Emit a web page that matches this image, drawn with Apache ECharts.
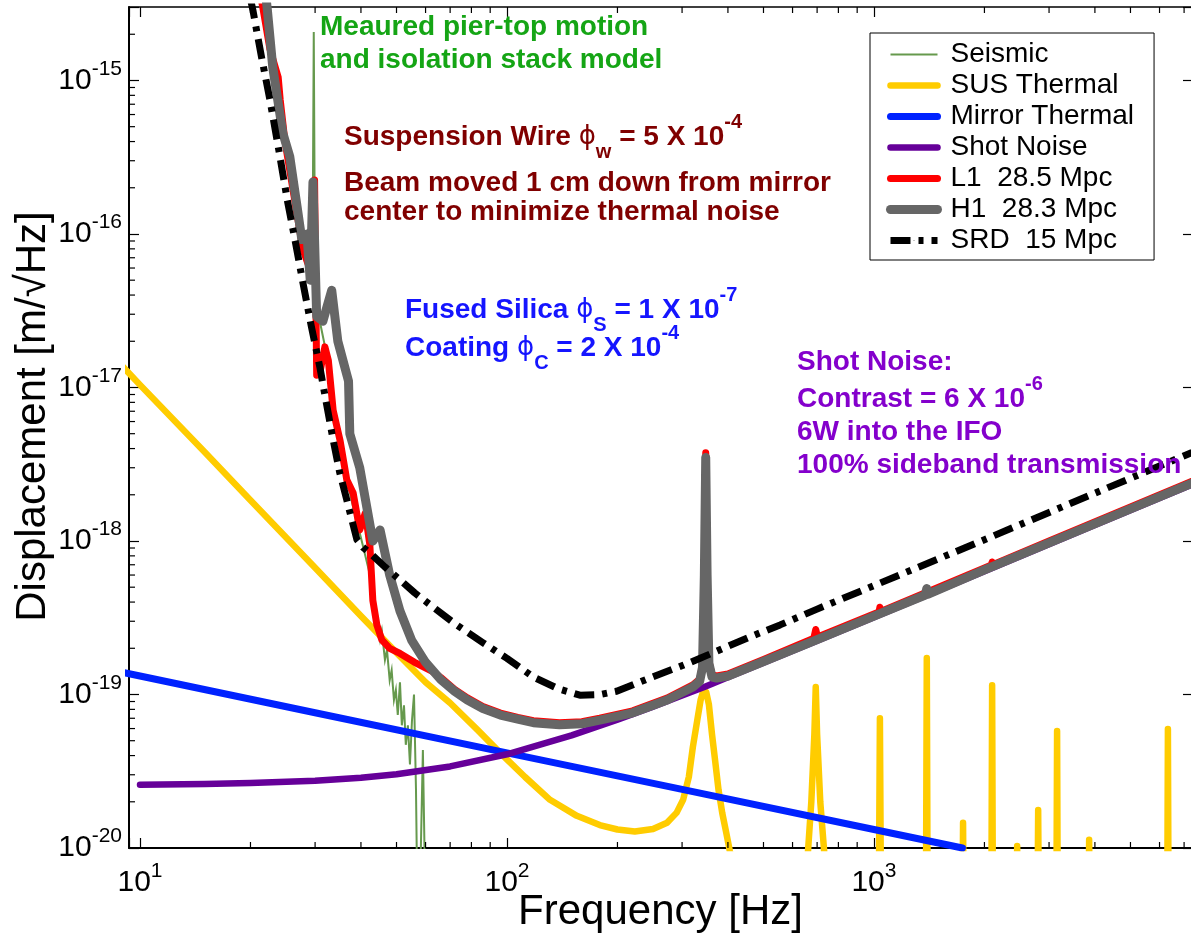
<!DOCTYPE html>
<html>
<head>
<meta charset="utf-8">
<script src="https://cdn.jsdelivr.net/npm/echarts@6.0.0/dist/echarts.min.js"></script>
<style>
  html, body { margin: 0; padding: 0; background: #ffffff; }
  #chart { width: 1191px; height: 937px; }
</style>
</head>
<body>
<div id="chart"></div>
<script>
// ---- Noise budget data: [frequency Hz, displacement m/sqrt(Hz)] ----
const seismicData = [
  [21.4, 3.2e-15], [22.5, 1.5e-15], [24.0, 6.0e-16], [25.5, 2.6e-16], [27.0, 1.3e-16],
  [28.5, 7.0e-17], [29.5, 5.0e-17], [29.75, 2.07e-15], [30.0, 4.5e-17], [31.0, 2.6e-17],
  [32.5, 1.5e-17], [34.0, 6.5e-18], [36.0, 3.0e-18], [38.0, 1.7e-18], [40.0, 1.05e-18],
  [42.0, 6.5e-19], [43.5, 4.2e-19], [44.3, 3.05e-19], [45.1, 2.27e-19], [45.6, 2.6e-19],
  [46.5, 1.68e-19], [47.1, 1.95e-19], [47.9, 1.24e-19], [48.5, 1.44e-19], [49.2, 9.2e-20],
  [49.8, 1.07e-19], [50.4, 7.35e-20], [51.1, 1.2e-19], [51.7, 6.3e-20], [52.4, 8.5e-20],
  [53.0, 4.7e-20], [53.7, 6.3e-20], [54.4, 3.5e-20], [55.1, 6.8e-20], [55.8, 1.0e-19],
  [56.5, 2.4e-20], [56.9, 6.0e-21], [58.0, 6.0e-21], [59.0, 4.35e-20], [59.8, 6.0e-21],
  [62.0, 5.0e-21]
];

const susThermalData = [
  [9.0, 1.36e-17], [10, 1.04e-17], [15, 3.8e-18], [20, 1.84e-18], [30, 6.7e-19],
  [40, 3.25e-19], [51, 1.78e-19], [60, 1.2e-19], [70, 8.8e-20], [83, 5.9e-20],
  [96, 4.15e-20], [112, 2.9e-20], [131, 2.06e-20], [155, 1.62e-20], [179, 1.41e-20],
  [200, 1.32e-20], [223, 1.28e-20], [250, 1.33e-20], [273, 1.46e-20], [290, 1.7e-20],
  [302, 2.06e-20], [313, 2.9e-20], [321, 4.55e-20], [330, 6.8e-20], [337, 9.2e-20],
  [343, 1.06e-19], [349, 1.04e-19], [355, 8.6e-20], [362, 5.5e-20], [369, 3.74e-20],
  [377, 2.4e-20], [386, 1.69e-20], [396, 1.25e-20], [405, 9.5e-21], [430, 6.0e-21],
  [500, 3.0e-21],
  // violin modes and harmonics
  [640, 3.0e-21], [675, 2.0e-20], [688, 5.5e-20], [694, 1.12e-19], [700, 5.5e-20],
  [714, 2.0e-20], [760, 3.0e-21],
  [1030, 3.0e-21], [1038, 7.0e-20], [1046, 3.0e-21],
  [1385, 3.0e-21], [1393, 1.73e-19], [1401, 3.0e-21],
  [1741, 3.0e-21], [1749, 1.46e-20], [1757, 3.0e-21],
  [2088, 3.0e-21], [2099, 1.15e-19], [2110, 3.0e-21],
  [2444, 3.0e-21], [2456, 1.03e-20], [2468, 3.0e-21],
  [2788, 3.0e-21], [2802, 1.77e-20], [2816, 3.0e-21],
  [3140, 3.0e-21], [3155, 5.78e-20], [3170, 3.0e-21],
  [3840, 3.0e-21], [3858, 1.13e-20], [3876, 3.0e-21],
  [6295, 3.0e-21], [6324, 5.95e-20], [6353, 3.0e-21]
];

const mirrorThermalData = [
  [9.0, 1.39e-19], [10, 1.32e-19], [30, 7.6e-20], [100, 4.17e-20],
  [300, 2.41e-20], [1000, 1.32e-20], [1742, 1.0e-20]
];

const shotNoiseData = [
  [10, 2.58e-20], [15, 2.61e-20], [20, 2.65e-20], [30, 2.74e-20], [40, 2.87e-20],
  [50, 3.02e-20], [70, 3.40e-20], [100, 4.08e-20], [150, 5.41e-20], [200, 6.85e-20],
  [250, 8.34e-20], [300, 9.86e-20], [345, 1.12e-19], [400, 1.295e-19], [500, 1.61e-19],
  [700, 2.24e-19], [1000, 3.18e-19], [2000, 6.35e-19], [4000, 1.27e-18], [7356, 2.33e-18]
];

const l1Data = [
  [21.2, 3.8e-15], [21.6, 3.0e-15], [22.6, 1.6e-15], [23.8, 1.05e-15], [24.1, 7.5e-16],
  [24.8, 4.1e-16], [26.4, 1.66e-16], [27.8, 7.9e-17], [29.1, 5.8e-17], [29.6, 1.0e-16],
  [29.9, 2.25e-16], [30.3, 1.2e-17], [31.0, 1.3e-17], [31.9, 1.84e-17], [32.6, 1.5e-17],
  [33.6, 7.1e-18], [35.1, 4.5e-18], [36.6, 2.5e-18], [38.1, 2.05e-18], [39.7, 1.18e-18],
  [41.1, 1.52e-18], [42.3, 9.4e-19], [43.1, 4.1e-19], [44.2, 2.84e-19], [45.6, 2.27e-19],
  [47.9, 2.0e-19], [51.1, 1.85e-19], [56, 1.62e-19], [62.8, 1.41e-19], [66, 1.29e-19],
  [72, 1.08e-19], [78, 9.5e-20], [86, 8.35e-20], [96, 7.57e-20], [107, 7.1e-20],
  [118, 6.75e-20], [139, 6.54e-20], [160, 6.64e-20], [179, 7.0e-20], [220, 7.83e-20],
  [273, 9.48e-20], [321, 1.155e-19], [335, 1.26e-19], [341, 1.55e-19], [345, 6.5e-19],
  [348, 3.75e-18], [351, 6.5e-19], [355, 1.65e-19], [362, 1.34e-19], [373, 1.32e-19],
  [400, 1.36e-19], [500, 1.69e-19], [686, 2.33e-19], [694, 2.65e-19], [702, 2.37e-19],
  [1000, 3.34e-19], [1032, 3.44e-19], [1038, 3.7e-19], [1044, 3.47e-19], [2000, 6.67e-19],
  [2090, 6.97e-19], [2099, 7.3e-19], [2108, 7.0e-19], [3000, 1.0e-18], [5000, 1.667e-18],
  [7356, 2.45e-18]
];

const h1Data = [
  [22.0, 3.6e-15], [22.2, 3.0e-15], [23.0, 1.22e-15], [24.5, 4.55e-16], [25.6, 3.18e-16],
  [26.8, 1.5e-16], [27.6, 9.2e-17], [28.5, 1.0e-16], [29.1, 5.0e-17], [29.6, 2.18e-16],
  [30.3, 2.9e-17], [31.5, 2.7e-17], [33.3, 4.3e-17], [34.6, 2.0e-17], [37.0, 1.1e-17],
  [37.3, 5.0e-18], [39.7, 3.0e-18], [41.5, 1.66e-18], [43.1, 1.0e-18], [45.1, 1.18e-18],
  [47.9, 6.0e-19], [51.1, 3.5e-19], [55, 2.25e-19], [60, 1.62e-19], [66, 1.25e-19],
  [72, 1.05e-19], [78, 9.2e-20], [86, 8.1e-20], [96, 7.35e-20], [107, 6.9e-20],
  [118, 6.55e-20], [139, 6.35e-20], [160, 6.45e-20], [179, 6.8e-20], [220, 7.6e-20],
  [273, 9.2e-20], [321, 1.12e-19], [335, 1.22e-19], [341, 1.5e-19], [345, 6.0e-19],
  [348, 3.5e-18], [351, 6.0e-19], [355, 1.6e-19], [362, 1.3e-19], [373, 1.28e-19],
  [400, 1.32e-19], [500, 1.64e-19], [700, 2.28e-19], [1000, 3.24e-19], [1380, 4.45e-19],
  [1393, 4.9e-19], [1406, 4.5e-19], [2000, 6.48e-19], [3000, 9.71e-19], [5000, 1.62e-18],
  [7356, 2.38e-18]
];

const srdData = [
  [20.0, 3.4e-15], [20.3, 2.88e-15], [21.4, 1.45e-15], [22.6, 7.46e-16], [23.9, 3.5e-16],
  [25.2, 1.66e-16], [26.5, 8.9e-17], [27.8, 4.8e-17], [29.3, 2.5e-17], [30.9, 1.36e-17],
  [32.2, 7.9e-18], [33.6, 4.55e-18], [35.0, 2.8e-18], [36.6, 1.85e-18], [38.0, 1.3e-18],
  [39.0, 1.02e-18], [40.5, 9.1e-19], [42.3, 8.36e-19], [46.5, 6.77e-19], [51.1, 5.57e-19],
  [56, 4.6e-19], [62.8, 3.72e-19], [72, 2.9e-19], [86.1, 2.17e-19], [100, 1.72e-19],
  [118, 1.3e-19], [138, 1.09e-19], [158, 9.9e-20], [180, 1.0e-19], [199, 1.05e-19],
  [245, 1.28e-19], [302, 1.55e-19], [336, 1.72e-19], [400, 2.06e-19], [459, 2.37e-19],
  [555, 2.84e-19], [700, 3.6e-19], [1000, 5.12e-19], [2000, 1.02e-18], [4000, 2.05e-18],
  [7356, 3.77e-18]
];

// legend entries
const seriesNames = ['Seismic', 'SUS Thermal', 'Mirror Thermal', 'Shot Noise',
                     'L1  28.5 Mpc', 'H1  28.3 Mpc', 'SRD  15 Mpc'];

// axis ticks
const xTickExponents = [1, 2, 3];
const yTickExponents = [-20, -19, -18, -17, -16, -15];
const minorSteps = [2, 3, 4, 5, 6, 7, 8, 9];
const xMinorDecades = [10, 100, 1000];
const yMinorDecades = [1e-20, 1e-19, 1e-18, 1e-17, 1e-16, 1e-15];

// axis ranges
const xMin = 9.333, xMax = 7356;
const yMin = 1e-20, yMax = 3.01e-15;

const FONT = "'Liberation Sans', Arial, Helvetica, sans-serif";

const xMinorTicks = [];
xMinorDecades.forEach(d => minorSteps.forEach(k => { const v = k * d; if (v < xMax) xMinorTicks.push(v); }));
const yMinorTicks = [];
yMinorDecades.forEach(d => minorSteps.forEach(k => { const v = k * d; if (v < yMax * 0.98) yMinorTicks.push(v); }));

function powerLabel(exps) {
  return function (v) {
    const l = Math.log10(v);
    const e = Math.round(l);
    if (Math.abs(l - e) > 1e-6 || exps.indexOf(e) < 0) return '';
    return '{m|10}{s|' + e + '}';
  };
}
// a tall line box lets the exponent sit well above the mantissa
const tickRich = {
  m: { fontSize: 30, lineHeight: 44, fontFamily: FONT, color: '#000' },
  s: { fontSize: 21, verticalAlign: 'top', fontFamily: FONT, color: '#000' }
};

function lineSeries(name, data, color, width, extra) {
  return Object.assign({
    type: 'line', name: name, data: data, symbol: 'none', clip: true, silent: true,
    itemStyle: { color: color },
    lineStyle: { color: color, width: width, cap: 'round', join: 'round' },
    emphasis: { disabled: true }
  }, extra || {});
}

function richFor(color) {
  return {
    t: { fontSize: 28, fontWeight: 'bold', fontFamily: FONT, lineHeight: 50, fill: color },
    p: { fontSize: 26, fontFamily: "'DejaVu Sans', sans-serif", lineHeight: 50, fill: color },
    sub: { fontSize: 20, fontWeight: 'bold', fontFamily: FONT, verticalAlign: 'bottom', fill: color },
    sup: { fontSize: 20, fontWeight: 'bold', fontFamily: FONT, verticalAlign: 'top', fill: color }
  };
}
// baseline of the main text sits 34.7px below the top of its line box
function note(x, baseline, text, color) {
  return {
    type: 'text', x: x, y: baseline - 34.7, silent: true, z: 100,
    style: { text: text, rich: richFor(color), fill: color, verticalAlign: 'top', align: 'left' }
  };
}

const GREEN = '#15a515', DARKRED = '#800000', BLUE = '#1515ff', PURPLE = '#8400cc';

const axisLineStyle = { color: '#000', width: 2 };

const option = {
  animation: false,
  backgroundColor: '#ffffff',
  grid: { left: 129, top: 7, width: 1063, height: 841, containLabel: false, outerBoundsMode: 'none' },
  legend: {
    data: seriesNames,
    orient: 'vertical',
    left: 870, top: 33,
    padding: [6, 20, 4, 16],
    itemWidth: 47, itemHeight: 1, itemGap: 0,
    backgroundColor: '#ffffff', borderColor: '#000', borderWidth: 1,
    selectedMode: false,
    lineStyle: { width: 'inherit' },
    textStyle: { fontSize: 28, fontFamily: FONT, color: '#000', lineHeight: 31, padding: [0, 0, 0, 8] }
  },
  xAxis: [
    {
      type: 'log', logBase: 10, min: xMin, max: xMax, position: 'bottom',
      axisLine: { lineStyle: axisLineStyle },
      axisTick: { inside: true, length: 10, lineStyle: { color: '#000', width: 1.2 } },
      splitLine: { show: false },
      axisLabel: { margin: 13, formatter: powerLabel(xTickExponents), rich: tickRich, fontFamily: FONT, color: '#000' },
      name: 'Frequency [Hz]', nameLocation: 'middle', nameGap: 43, nameMoveOverlap: false,
      nameTextStyle: { fontSize: 42, fontFamily: FONT, color: '#000', lineHeight: 42 }
    },
    {
      type: 'log', logBase: 10, min: xMin, max: xMax, position: 'top',
      axisLine: { lineStyle: { color: '#000', width: 1.5 } },
      axisTick: { inside: true, length: 10, lineStyle: { color: '#000', width: 1.2 } },
      splitLine: { show: false }, axisLabel: { show: false }
    }
  ],
  yAxis: [
    {
      type: 'log', logBase: 10, min: yMin, max: yMax, position: 'left',
      axisLine: { lineStyle: axisLineStyle },
      axisTick: { inside: true, length: 10, lineStyle: { color: '#000', width: 1.2 } },
      splitLine: { show: false },
      axisLabel: { margin: 7, formatter: powerLabel(yTickExponents), rich: tickRich, fontFamily: FONT, color: '#000' },
      name: 'Displacement [m/\u221AHz]', nameLocation: 'middle', nameGap: 74.5, nameMoveOverlap: false,
      nameTextStyle: { fontSize: 42, fontFamily: FONT, color: '#000', lineHeight: 42, padding: [0, 0, 0, 22] }
    },
    {
      type: 'log', logBase: 10, min: yMin, max: yMax, position: 'right',
      axisLine: { lineStyle: axisLineStyle },
      axisTick: { inside: true, length: 9, lineStyle: { color: '#000', width: 1.2 } },
      splitLine: { show: false }, axisLabel: { show: false }
    }
  ],
  series: [
    lineSeries('Seismic', seismicData, '#66994d', 2, { lineStyle: { color: '#66994d', width: 2, join: 'miter' } }),
    lineSeries('SUS Thermal', susThermalData, '#ffcc00', 6.5),
    lineSeries('Mirror Thermal', mirrorThermalData, '#0022ff', 7),
    lineSeries('Shot Noise', shotNoiseData, '#660099', 6.5),
    lineSeries('L1  28.5 Mpc', l1Data, '#ff0000', 7),
    lineSeries('H1  28.3 Mpc', h1Data, '#666666', 9),
    lineSeries('SRD  15 Mpc', srdData, '#000000', 7, {
      lineStyle: { color: '#000000', width: 7, type: [20, 8, 5, 8], cap: 'butt', join: 'round' }
    }),
    {
      // minor ticks on the frequency axis (bottom and top)
      type: 'custom', coordinateSystem: 'cartesian2d', silent: true, z: 20,
      data: xMinorTicks.map(v => [v, yMin]),
      renderItem: function (params, api) {
        const v = api.value(0);
        const b = api.coord([v, yMin]);
        const t = api.coord([v, yMax]);
        const st = { stroke: '#000', lineWidth: 1.2 };
        return {
          type: 'group', children: [
            { type: 'line', shape: { x1: b[0], y1: b[1], x2: b[0], y2: b[1] - 6 }, style: st },
            { type: 'line', shape: { x1: t[0], y1: t[1], x2: t[0], y2: t[1] + 6 }, style: st }
          ]
        };
      }
    },
    {
      // minor ticks on the displacement axis (left)
      type: 'custom', coordinateSystem: 'cartesian2d', silent: true, z: 20,
      data: yMinorTicks.map(v => [xMin, v]),
      renderItem: function (params, api) {
        const p = api.coord([xMin, api.value(1)]);
        return { type: 'line', shape: { x1: p[0], y1: p[1], x2: p[0] + 6, y2: p[1] }, style: { stroke: '#000', lineWidth: 1.2 } };
      }
    }
  ],
  graphic: [
    note(320, 37, '{t|Meaured pier-top motion}', GREEN),
    note(320, 70, '{t|and isolation stack model}', GREEN),
    note(344, 147, '{t|Suspension Wire }{p|\u03D5}{sub|w}{t| = 5 X 10}{sup|-4}', DARKRED),
    note(344, 193, '{t|Beam moved 1 cm down from mirror}', DARKRED),
    note(344, 222, '{t|center to minimize thermal noise}', DARKRED),
    note(405, 320, '{t|Fused Silica }{p|\u03D5}{sub|S}{t| = 1 X 10}{sup|-7}', BLUE),
    note(405, 358, '{t|Coating }{p|\u03D5}{sub|C}{t| = 2 X 10}{sup|-4}', BLUE),
    note(797, 372, '{t|Shot Noise:}', PURPLE),
    note(797, 409, '{t|Contrast = 6 X 10}{sup|-6}', PURPLE),
    note(797, 442, '{t|6W into the IFO}', PURPLE),
    note(797, 475, '{t|100% sideband transmission}', PURPLE)
  ]
};

const chart = echarts.init(document.getElementById('chart'), null, { renderer: 'canvas' });
chart.setOption(option);
</script>
</body>
</html>
